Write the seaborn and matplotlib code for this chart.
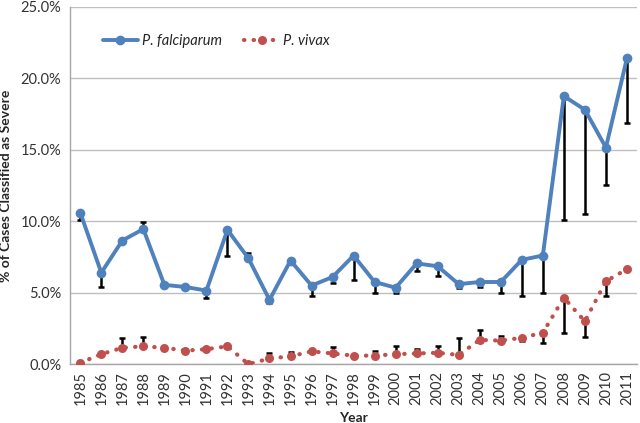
import numpy as np
import pandas as pd
import matplotlib
matplotlib.use("Agg")
import matplotlib.pyplot as plt
from matplotlib.ticker import FuncFormatter, FixedLocator
import seaborn as sns

years = list(range(1985, 2012))

falciparum = [10.6, 6.4, 8.65, 9.45, 5.55, 5.4, 5.15, 9.4, 7.4, 4.5, 7.25, 5.5, 6.1,
              7.6, 5.75, 5.35, 7.05, 6.85, 5.6, 5.75, 5.75, 7.3, 7.6, 18.75, 17.8, 15.15, 21.4]
# where each one-sided error bar ends (same as value = no bar)
falciparum_bar_end = [10.1, 5.4, 8.65, 9.95, 5.55, 5.4, 4.6, 7.6, 7.8, 4.25, 7.25, 4.75, 5.7,
                      5.9, 5.0, 5.0, 6.5, 6.2, 5.3, 5.4, 5.0, 4.8, 5.0, 10.1, 10.5, 12.5, 16.9]

vivax = [0.1, 0.7, 1.15, 1.25, 1.15, 0.95, 1.05, 1.25, 0.0, 0.4, 0.55, 0.9, 0.75,
         0.6, 0.6, 0.7, 0.75, 0.8, 0.65, 1.7, 1.65, 1.85, 2.2, 4.65, 3.0, 5.8, 6.65]
vivax_bar_end = [0.1, 0.7, 1.8, 1.9, 1.2, 1.05, 1.05, 1.25, 0.15, 0.75, 0.85, 0.9, 1.2,
                 0.6, 0.95, 1.25, 1.05, 1.25, 1.85, 2.4, 1.95, 1.65, 1.5, 2.2, 1.9, 4.75, 6.65]

blue = "#4F81BD"
red = "#C0504D"

sns.set_style("white")
plt.rcParams['font.family'] = ['Lato', 'DejaVu Sans']

fig = plt.figure(figsize=(6.4, 4.23), dpi=100)
ax = fig.add_axes([0.109, 0.139, 0.887, 0.845])

x = np.arange(len(years))


def one_sided(vals, ends):
    vals = np.array(vals)
    ends = np.array(ends)
    lower = np.clip(vals - ends, 0, None)
    upper = np.clip(ends - vals, 0, None)
    return np.vstack([lower, upper])


ax.errorbar(x, falciparum, yerr=one_sided(falciparum, falciparum_bar_end), fmt="none",
            ecolor="black", elinewidth=1.8, capsize=2.5, capthick=1.8, zorder=2)
ax.errorbar(x, vivax, yerr=one_sided(vivax, vivax_bar_end), fmt="none",
            ecolor="black", elinewidth=1.8, capsize=2.5, capthick=1.8, zorder=2)

df = pd.DataFrame({"x": x, "falciparum": falciparum, "vivax": vivax})
sns.lineplot(data=df, x="x", y="falciparum", ax=ax, color=blue, linewidth=2.8,
             marker="o", markersize=7, markeredgewidth=0, label="P. falciparum", zorder=3)
sns.lineplot(data=df, x="x", y="vivax", ax=ax, color=red, linewidth=3,
             marker="o", markersize=6.5, markeredgewidth=0, label="P. vivax", zorder=3,
             linestyle=(0, (0.1, 2.2)), dash_capstyle="round")

ax.set_xlim(-0.5, len(years) - 0.5)
ax.set_ylim(0, 25)
ax.set_yticks(np.arange(0, 26, 5))
ax.yaxis.set_major_formatter(FuncFormatter(lambda v, p: f"{v:.1f}%"))
ax.set_xticks(x)
ax.set_xticklabels([str(y) for y in years], rotation=90, fontsize=10.5, color="#333333")
ax.xaxis.set_minor_locator(FixedLocator(np.arange(-0.5, len(years), 1)))
ax.tick_params(axis="x", which="major", length=0, pad=5)
ax.tick_params(axis="x", which="minor", length=5, color="#A6A6A6", width=1)
ax.tick_params(axis="y", length=0, labelsize=10.5, labelcolor="#333333", pad=6)

ax.grid(axis="y", color="#BFBFBF", linewidth=1)
ax.set_axisbelow(True)
for s in ["top", "right"]:
    ax.spines[s].set_visible(False)
for s in ["left", "bottom"]:
    ax.spines[s].set_color("#A6A6A6")
    ax.spines[s].set_linewidth(1)

ax.set_xlabel("Year", fontsize=10, fontweight="bold", labelpad=5)
ax.set_ylabel("% of Cases Classified as Severe", fontsize=10, fontweight="bold", labelpad=6)

leg = ax.legend(loc="upper left", bbox_to_anchor=(0.035, 0.96), ncol=2, frameon=False,
                fontsize=10.5, handlelength=2.4, columnspacing=1.5, handletextpad=0.3)
for t in leg.get_texts():
    t.set_fontstyle("italic")

fig.savefig("out.png", dpi=100)
